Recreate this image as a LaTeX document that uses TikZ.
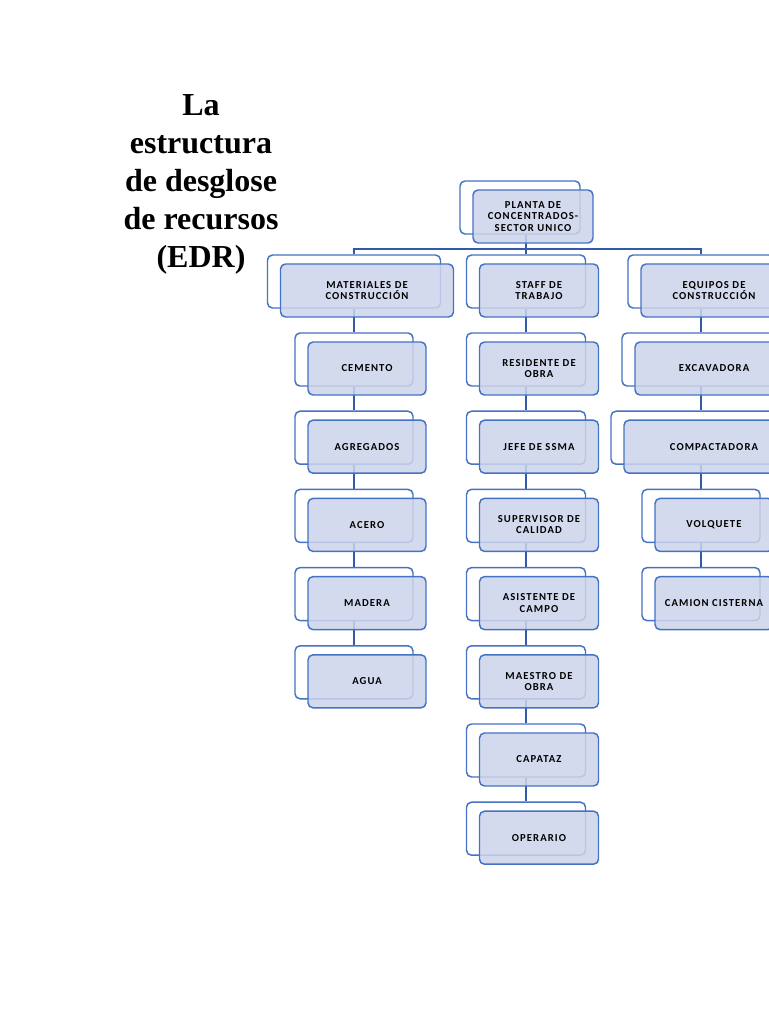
\documentclass[tikz,border=0pt]{standalone}
\usepackage{fontspec}
\setmainfont{Liberation Serif}
\newfontfamily\boxfont[LetterSpace=10]{Carlito}
\usepackage{tikz}
\usetikzlibrary{backgrounds}
\definecolor{edrblue}{RGB}{68,114,196}
\definecolor{edrline}{RGB}{50,90,168}
\definecolor{edrfill}{RGB}{205,212,234}
\tikzset{
  backbox/.style={draw=edrblue,fill=white,line width=1.1pt,rounded corners=3.75pt,minimum height=39.75pt,inner sep=0pt},
  frontbox/.style={draw=edrblue,fill=edrfill,fill opacity=0.85,text opacity=1,line width=1.1pt,rounded corners=3.75pt,minimum height=39.75pt,inner sep=0pt,align=center,font=\boxfont\bfseries\fontsize{8pt}{8.4pt}\selectfont},
  link/.style={draw=edrline,line width=1.2pt}
}
\newcommand{\edrbox}[5]{
  \node[backbox,minimum width=#4*0.75pt] (#1) at (#2,#3) {};
  \node[frontbox,minimum width=#4*0.75pt] (#1f) at ([xshift=9.75pt,yshift=-6.75pt]#1.center) {#5};
}
\begin{document}
\begin{tikzpicture}[x=0.75pt,y=-0.75pt]
  \useasboundingbox (0,0) rectangle (768,1024);
  \node[align=center,font=\bfseries\fontsize{24pt}{28.5pt}\selectfont] (titulo) at (201,184) {La\\estructura\\de desglose\\de recursos\\(EDR)};
  \edrbox{planta}{520}{207.5}{120}{PLANTA DE\\CONCENTRADOS-\\SECTOR UNICO}
  \edrbox{mat}{354}{281.5}{173}{MATERIALES DE\\CONSTRUCCIÓN}
  \edrbox{staff}{526}{281.5}{119}{STAFF DE\\TRABAJO}
  \edrbox{equ}{701}{281.5}{146}{EQUIPOS DE\\CONSTRUCCIÓN}
  \foreach \n/\t [count=\i from 0] in {cem/CEMENTO,agr/AGREGADOS,ace/ACERO,mad/MADERA,agu/AGUA}
    {\edrbox{\n}{354}{359.5+78.2*\i}{118}{\t}}
  \foreach \n/\t [count=\i from 0] in {res/{RESIDENTE DE\\OBRA},jef/{JEFE DE SSMA},sup/{SUPERVISOR DE\\CALIDAD},asi/{ASISTENTE DE\\CAMPO},mae/{MAESTRO DE\\OBRA},cap/CAPATAZ,ope/OPERARIO}
    {\edrbox{\n}{526}{359.5+78.2*\i}{119}{\t}}
  \edrbox{exc}{701}{359.5}{158}{EXCAVADORA}
  \edrbox{com}{701}{437.7}{180}{COMPACTADORA}
  \edrbox{vol}{701}{515.9}{118}{VOLQUETE}
  \edrbox{cis}{701}{594.1}{118}{CAMION CISTERNA}
  \coordinate (bar) at (526,249);
  \begin{scope}[on background layer]
    \draw[link] (planta.south -| bar) -- (bar) -- (staff.north);
    \draw[link] (mat.north) |- (bar) -| (equ.north);
    \draw[link] (mat) -- (cem) (cem) -- (agr) (agr) -- (ace) (ace) -- (mad) (mad) -- (agu);
    \draw[link] (staff) -- (res) (res) -- (jef) (jef) -- (sup) (sup) -- (asi) (asi) -- (mae) (mae) -- (cap) (cap) -- (ope);
    \draw[link] (equ) -- (exc) (exc) -- (com) (com) -- (vol) (vol) -- (cis);
  \end{scope}
\end{tikzpicture}
\end{document}
